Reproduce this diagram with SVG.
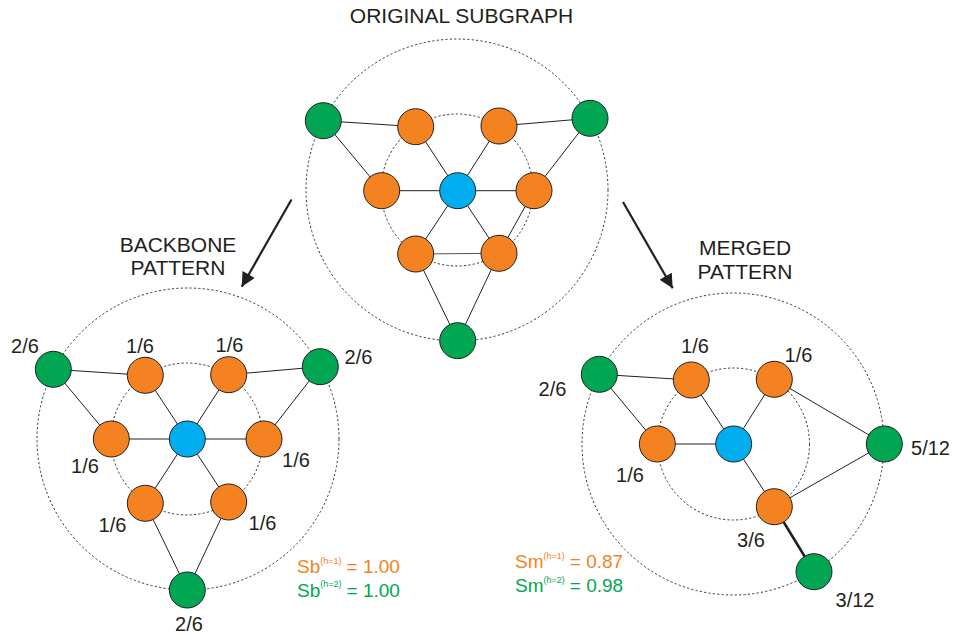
<svg xmlns="http://www.w3.org/2000/svg" width="953" height="635" viewBox="0 0 953 635">
<defs>
<style>
.bg{fill:#ffffff}
.ring{fill:none;stroke:#231F20;stroke-width:0.9;stroke-dasharray:2.2 2.2}
.e{stroke:#231F20;stroke-width:1;fill:none}
.thick{stroke:#231F20;stroke-width:2.6;fill:none}
.arrow{stroke:#231F20;stroke-width:2.2;fill:none}
.g{fill:#00A651;stroke:#231F20;stroke-width:1}
.o{fill:#F58220;stroke:#231F20;stroke-width:1}
.b{fill:#00AEEF;stroke:#231F20;stroke-width:1}
.t{font-family:"Liberation Sans",Arial,sans-serif;fill:#231F20}
.title{font-size:21px;text-anchor:middle}
.lbl{font-size:20px;text-anchor:middle}
.sc{font-size:19px}
.sup{font-size:9px}
.ot{fill:#F58220}
.gt{fill:#00A651}
</style>
<marker id="ah" viewBox="0 0 10 10" refX="9" refY="5" markerWidth="7" markerHeight="7" markerUnits="userSpaceOnUse" orient="auto">
<path d="M0,0 L10,5 L0,10 Z" fill="#231F20"/>
</marker>
<marker id="ah2" viewBox="0 0 10 10" refX="10" refY="5" markerWidth="16" markerHeight="14" markerUnits="userSpaceOnUse" orient="auto">
<path d="M0,0 L10,5 L0,10 Z" fill="#231F20"/>
</marker>
</defs>
<rect class="bg" x="0" y="0" width="953" height="635"/>

<!-- titles -->
<g id="titles">
<text class="t title" x="461.5" y="23">ORIGINAL SUBGRAPH</text>
<text class="t title" x="178" y="252">BACKBONE</text>
<text class="t title" x="178" y="275">PATTERN</text>
<text class="t title" x="745" y="255">MERGED</text>
<text class="t title" x="745" y="279">PATTERN</text>
</g>

<!-- rings -->
<g id="rings">
<circle class="ring" cx="457" cy="190" r="151"/>
<circle class="ring" cx="457" cy="190" r="76"/>
<circle class="ring" cx="188" cy="439" r="151"/>
<circle class="ring" cx="187" cy="439" r="76"/>
<circle class="ring" cx="733" cy="444" r="151"/>
<circle class="ring" cx="733.5" cy="444" r="76"/>
</g>

<!-- connectors -->
<g id="connectors">
<!-- original -->
<line class="e" x1="323.3" y1="120.7" x2="415.7" y2="126.7"/>
<line class="e" x1="323.3" y1="120.7" x2="381.7" y2="190.7"/>
<line class="e" x1="590" y1="118.3" x2="499" y2="126"/>
<line class="e" x1="590" y1="118.3" x2="534" y2="190.7"/>
<line class="e" x1="457.7" y1="190.7" x2="415.7" y2="126.7"/>
<line class="e" x1="457.7" y1="190.7" x2="499" y2="126"/>
<line class="e" x1="457.7" y1="190.7" x2="381.7" y2="190.7"/>
<line class="e" x1="457.7" y1="190.7" x2="534" y2="190.7"/>
<line class="e" x1="457.7" y1="190.7" x2="415.7" y2="254"/>
<line class="e" x1="457.7" y1="190.7" x2="499" y2="253.3"/>
<line class="e" x1="534" y1="190.7" x2="499" y2="253.3"/>
<line class="e" x1="415.7" y1="254" x2="499" y2="253.3" style="stroke:#555"/>
<line class="e" x1="415.7" y1="254" x2="457.7" y2="340.7"/>
<line class="e" x1="499" y1="253.3" x2="457.7" y2="340.7"/>
<!-- backbone -->
<line class="e" x1="53.3" y1="369.3" x2="145.3" y2="375.3"/>
<line class="e" x1="53.3" y1="369.3" x2="111.3" y2="439"/>
<line class="e" x1="320.3" y1="366.7" x2="228.7" y2="374.7"/>
<line class="e" x1="320.3" y1="366.7" x2="264" y2="439"/>
<line class="e" x1="187.3" y1="439" x2="145.3" y2="375.3"/>
<line class="e" x1="187.3" y1="439" x2="228.7" y2="374.7"/>
<line class="e" x1="187.3" y1="439" x2="111.3" y2="439"/>
<line class="e" x1="187.3" y1="439" x2="264" y2="439"/>
<line class="e" x1="187.3" y1="439" x2="145.3" y2="503.3"/>
<line class="e" x1="187.3" y1="439" x2="228.7" y2="502"/>
<line class="e" x1="145.3" y1="503.3" x2="187.3" y2="590"/>
<line class="e" x1="228.7" y1="502" x2="187.3" y2="590"/>
<!-- merged -->
<line class="e" x1="599.3" y1="374.3" x2="691.3" y2="380"/>
<line class="e" x1="599.3" y1="374.3" x2="657.3" y2="444"/>
<line class="e" x1="733.7" y1="444" x2="691.3" y2="380"/>
<line class="e" x1="733.7" y1="444" x2="774.3" y2="379.3"/>
<line class="e" x1="733.7" y1="444" x2="657.3" y2="444"/>
<line class="e" x1="733.7" y1="444" x2="774.3" y2="506.7"/>
<line class="e" x1="774.3" y1="379.3" x2="884.3" y2="444"/>
<line class="e" x1="774.3" y1="506.7" x2="884.3" y2="444"/>
<line class="thick" x1="774.3" y1="506.7" x2="814" y2="571.7"/>
<!-- arrows -->
<line class="arrow" x1="291.5" y1="199.5" x2="241.7" y2="286.7" marker-end="url(#ah2)"/>
<line class="arrow" x1="623" y1="202" x2="672.7" y2="288.3" marker-end="url(#ah2)"/>
</g>

<!-- original subgraph nodes -->
<g id="orig-g1"><circle class="g" cx="323.3" cy="120.7" r="18"/></g>
<g id="orig-g2"><circle class="g" cx="590" cy="118.3" r="18"/></g>
<g id="orig-g3"><circle class="g" cx="457.7" cy="340.7" r="18"/></g>
<g id="orig-o1"><circle class="o" cx="415.7" cy="126.7" r="18"/></g>
<g id="orig-o2"><circle class="o" cx="499" cy="126" r="18"/></g>
<g id="orig-o3"><circle class="o" cx="381.7" cy="190.7" r="18"/></g>
<g id="orig-o4"><circle class="o" cx="534" cy="190.7" r="18"/></g>
<g id="orig-o5"><circle class="o" cx="415.7" cy="254" r="18"/></g>
<g id="orig-o6"><circle class="o" cx="499" cy="253.3" r="18"/></g>
<g id="orig-b"><circle class="b" cx="457.7" cy="190.7" r="18"/></g>

<!-- backbone nodes -->
<g id="bb-g1"><circle class="g" cx="53.3" cy="369.3" r="18"/><text class="t lbl" x="25" y="353">2/6</text></g>
<g id="bb-g2"><circle class="g" cx="320.3" cy="366.7" r="18"/><text class="t lbl" x="358.5" y="364">2/6</text></g>
<g id="bb-g3"><circle class="g" cx="187.3" cy="590" r="18"/><text class="t lbl" x="189" y="630.5">2/6</text></g>
<g id="bb-o1"><circle class="o" cx="145.3" cy="375.3" r="18"/><text class="t lbl" x="140" y="353">1/6</text></g>
<g id="bb-o2"><circle class="o" cx="228.7" cy="374.7" r="18"/><text class="t lbl" x="229.5" y="351.5">1/6</text></g>
<g id="bb-o3"><circle class="o" cx="111.3" cy="439" r="18"/><text class="t lbl" x="85" y="473">1/6</text></g>
<g id="bb-o4"><circle class="o" cx="264" cy="439" r="18"/><text class="t lbl" x="296" y="466.5">1/6</text></g>
<g id="bb-o5"><circle class="o" cx="145.3" cy="503.3" r="18"/><text class="t lbl" x="112.5" y="532">1/6</text></g>
<g id="bb-o6"><circle class="o" cx="228.7" cy="502" r="18"/><text class="t lbl" x="262.5" y="530">1/6</text></g>
<g id="bb-b"><circle class="b" cx="187.3" cy="439" r="18"/></g>
<g id="bb-score">
<text class="t sc ot" x="297" y="573">Sb<tspan class="sup" dy="-9.5">(h=1)</tspan><tspan dx="5" dy="9.5">= 1.00</tspan></text>
<text class="t sc gt" x="297" y="596.5">Sb<tspan class="sup" dy="-9.5">(h=2)</tspan><tspan dx="5" dy="9.5">= 1.00</tspan></text>
</g>

<!-- merged nodes -->
<g id="mg-g1"><circle class="g" cx="599.3" cy="374.3" r="18"/><text class="t lbl" x="552.5" y="395.5">2/6</text></g>
<g id="mg-g2"><circle class="g" cx="884.3" cy="444" r="18"/><text class="t lbl" x="930.5" y="455">5/12</text></g>
<g id="mg-g3"><circle class="g" cx="814" cy="571.7" r="18"/><text class="t lbl" x="855" y="607">3/12</text></g>
<g id="mg-o1"><circle class="o" cx="691.3" cy="380" r="18"/><text class="t lbl" x="695" y="353">1/6</text></g>
<g id="mg-o2"><circle class="o" cx="774.3" cy="379.3" r="18"/><text class="t lbl" x="798.5" y="361.5">1/6</text></g>
<g id="mg-o3"><circle class="o" cx="657.3" cy="444" r="18"/><text class="t lbl" x="630" y="481.5">1/6</text></g>
<g id="mg-o4"><circle class="o" cx="774.3" cy="506.7" r="18"/><text class="t lbl" x="751" y="546.5">3/6</text></g>
<g id="mg-b"><circle class="b" cx="733.7" cy="444" r="18"/></g>
<g id="mg-score">
<text class="t sc ot" x="515" y="568">Sm<tspan class="sup" dy="-9.5">(h=1)</tspan><tspan dx="5" dy="9.5">= 0.87</tspan></text>
<text class="t sc gt" x="515" y="592">Sm<tspan class="sup" dy="-9.5">(h=2)</tspan><tspan dx="5" dy="9.5">= 0.98</tspan></text>
</g>
</svg>
